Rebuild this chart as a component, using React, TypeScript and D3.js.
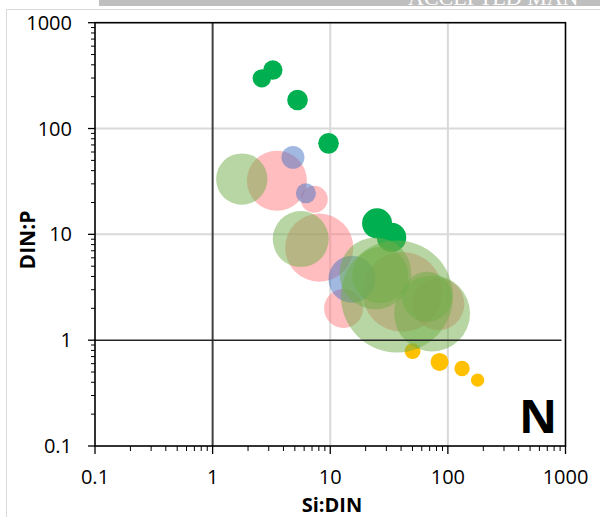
import React from "react";
import * as d3 from "d3";

// ---- data (Si:DIN, DIN:P, relative size) ----
const darkGreenSi = [2.62, 3.25, 5.27, 9.67, 25.0, 33.2];
const darkGreenDp = [298, 357, 186, 72.4, 12.7, 9.36];
const darkGreenSize = [2.7, 3.0, 3.4, 3.4, 7.2, 6.9];

const yellowSi = [50.1, 85, 132, 179];
const yellowDp = [0.787, 0.623, 0.54, 0.419];
const yellowSize = [2.0, 2.6, 1.9, 1.4];

const pinkSi = [3.52, 7.31, 8.06, 12.98, 41.0, 83.0];
const pinkDp = [32.1, 21.5, 7.49, 1.99, 2.86, 2.19];
const pinkSize = [28.7, 5.8, 36.9, 12.1, 51, 21.6];

const blueSi = [4.82, 6.21, 15.3];
const blueDp = [53.4, 24.4, 3.77];
const blueSize = [4.2, 3.2, 17.6];

const lightGreenSi = [1.77, 5.61, 36.9, 73.4, 24.2, 26.6, 66.5];
const lightGreenDp = [33.3, 9.02, 2.59, 1.79, 4.27, 4.12, 2.57];
const lightGreenSize = [21, 25, 100, 46, 41, 25, 20];

const tickValues = [0.1, 1, 10, 100, 1000];
const tickLabels = ["0.1", "1", "10", "100", "1000"];

const series = [
  { si: darkGreenSi, dp: darkGreenDp, size: darkGreenSize, fill: "#00B050", op: 1 },
  { si: yellowSi, dp: yellowDp, size: yellowSize, fill: "#FFC000", op: 1 },
  { si: pinkSi, dp: pinkDp, size: pinkSize, fill: "#FF7C80", op: 0.5 },
  { si: blueSi, dp: blueDp, size: blueSize, fill: "#4472C4", op: 0.5 },
  { si: lightGreenSi, dp: lightGreenDp, size: lightGreenSize, fill: "#70AD47", op: 0.5 },
];

const W = 600;
const H = 517;
const L = 95, R = 565.5, T = 22.7, B = 446;
const FONT = "'Open Sans', 'Liberation Sans', sans-serif";

export default function App() {
  const x = d3.scaleLog().domain([0.1, 1000]).range([L, R]);
  const y = d3.scaleLog().domain([0.1, 1000]).range([B, T]);
  const r = d3.scaleSqrt().domain([0, 100]).range([0, 56]);

  const minor: number[] = [];
  for (let e = -1; e < 3; e++) {
    for (let m = 2; m <= 9; m++) minor.push(m * Math.pow(10, e));
  }

  return (
    <div style={{ position: "fixed", left: 0, top: 0, width: W, height: H, background: "#fff" }}>
      <svg width={W} height={H} style={{ display: "block" }}>
        <rect x={0} y={0} width={W} height={H} fill="#fff" />
        {/* header band */}
        <rect x={99} y={0} width={W - 99} height={6} fill="#BFBFBF" />
        <text x={408} y={5} fontFamily="'Liberation Serif', serif" fontSize={22} fill="#fff">
          ACCEPTED MAN
        </text>
        {/* outer frame */}
        <line x1={6.5} y1={9} x2={6.5} y2={H} stroke="#D9D9D9" strokeWidth={1} />
        <line x1={6.5} y1={9.5} x2={W} y2={9.5} stroke="#D9D9D9" strokeWidth={1} />

        {/* gridlines */}
        {[10, 100].map((v) => (
          <line key={"gx" + v} x1={x(v)} x2={x(v)} y1={T} y2={B} stroke="#D9D9D9" strokeWidth={2} />
        ))}
        {[10, 100].map((v) => (
          <line key={"gy" + v} x1={L} x2={R} y1={y(v)} y2={y(v)} stroke="#D9D9D9" strokeWidth={2} />
        ))}
        <line x1={x(1)} x2={x(1)} y1={T} y2={B} stroke="#404040" strokeWidth={2} />

        {/* bubbles */}
        {series.map((s, si) =>
          s.si.map((v, i) => (
            <circle
              key={si + "-" + i}
              cx={x(v)}
              cy={y(s.dp[i])}
              r={r(s.size[i])}
              fill={s.fill}
              fillOpacity={s.op}
            />
          ))
        )}

        <line x1={L} x2={R - 4} y1={y(1)} y2={y(1)} stroke="#262626" strokeWidth={1.6} />

        {/* plot border */}
        <rect x={L} y={T} width={R - L} height={B - T} fill="none" stroke="#000" strokeWidth={1.6} />

        {/* y ticks */}
        {tickValues.map((v) => (
          <line key={"ymt" + v} x1={L - 7} x2={L} y1={y(v)} y2={y(v)} stroke="#000" strokeWidth={1.3} />
        ))}
        {minor.map((v) => (
          <line key={"ymn" + v} x1={L - 4} x2={L} y1={y(v)} y2={y(v)} stroke="#000" strokeWidth={1} />
        ))}
        {/* x ticks */}
        {tickValues.map((v) => (
          <line key={"xmt" + v} x1={x(v)} x2={x(v)} y1={B} y2={B + 8} stroke="#000" strokeWidth={1.3} />
        ))}
        {minor.map((v) => (
          <line key={"xmn" + v} x1={x(v)} x2={x(v)} y1={B} y2={B + 5} stroke="#000" strokeWidth={1} />
        ))}

        {/* tick labels */}
        {tickValues.map((v, i) => (
          <text key={"yl" + v} x={72} y={y(v) + 7} textAnchor="end" fontFamily={FONT} fontSize={20} fill="#000">
            {tickLabels[i]}
          </text>
        ))}
        {tickValues.map((v, i) => (
          <text key={"xl" + v} x={x(v)} y={484} textAnchor="middle" fontFamily={FONT} fontSize={20} fill="#000">
            {tickLabels[i]}
          </text>
        ))}

        {/* axis titles */}
        <text x={332} y={512} textAnchor="middle" fontFamily={FONT} fontSize={20} fontWeight="bold" fill="#000">
          Si:DIN
        </text>
        <text
          transform="translate(35,240) rotate(-90)"
          textAnchor="middle"
          fontFamily={FONT}
          fontSize={21}
          fontWeight="bold"
          fill="#000"
        >
          DIN:P
        </text>

        {/* panel letter */}
        <text x={538} y={433} textAnchor="middle" fontFamily={FONT} fontSize={47} fontWeight="bold" fill="#000">
          N
        </text>
      </svg>
    </div>
  );
}
